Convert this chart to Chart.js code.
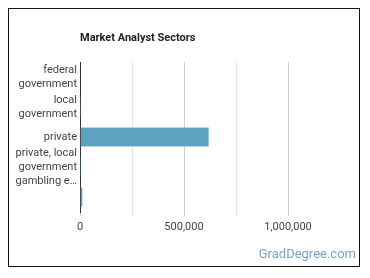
<!DOCTYPE html>
<html>
<head>
<meta charset="utf-8">
<script src="https://cdn.jsdelivr.net/npm/chart.js@4"></script>
<style>
  html, body { margin:0; padding:0; background:#fff; }
  #wrap { position:relative; width:370px; height:278px; overflow:hidden; }
  #frame { position:absolute; left:8px; top:8px; width:350px; height:257px; border:1.5px solid #111; }
  #title { position:absolute; left:80px; top:31px; font:bold 11px Roboto, sans-serif; color:#222; }
  #brand { position:absolute; right:14px; top:246px; font:13px Roboto, sans-serif; color:#7aa3c0; }
  canvas { position:absolute; left:0; top:0; }
</style>
</head>
<body>
<div id="wrap">
  <canvas id="chart" width="370" height="278"></canvas>
  <div id="frame"></div>
  <div id="title">Market Analyst Sectors</div>
  <div id="brand">GradDegree.com</div>
</div>
<script>
// sector labels (wrapped the way the reference shows them)
const categories = [
  ['federal', 'government'],
  ['local', 'government'],
  'private',
  ['private, local', 'government', 'gambling e…'],
  ''
];
// employment per sector
const employment = [2500, 6500, 620000, 6000, 13000];
const tickLabels = ['0', '500,000', '1,000,000'];
const labelledTicks = [0, 500000, 1000000];

new Chart(document.getElementById('chart'), {
  type: 'bar',
  data: {
    labels: categories,
    datasets: [{
      data: employment,
      backgroundColor: '#5ba3c1',
      borderColor: '#86c3d6',
      borderWidth: 0.6,
      barPercentage: 0.65,
      categoryPercentage: 1
    }]
  },
  options: {
    indexAxis: 'y',
    responsive: false,
    animation: false,
    layout: { padding: { left: 10, top: 62, right: 30, bottom: 36 } },
    plugins: { legend: { display: false }, tooltip: { enabled: false } },
    scales: {
      x: {
        min: 0, max: 1250000,
        afterFit: s => { s.height = 30; },
        border: { display: false },
        grid: {
          color: c => c.tick && labelledTicks.includes(c.tick.value) ? '#cfcfcf' : (c.tick && c.tick.value === 1250000 ? 'rgba(0,0,0,0)' : '#e6e6e6'),
          tickLength: 4
        },
        ticks: {
          stepSize: 250000,
          padding: 5,
          maxRotation: 0,
          autoSkip: false,
          color: '#444',
          font: { family: 'Roboto', size: 11 },
          callback: v => {
            const i = labelledTicks.indexOf(v);
            return i >= 0 ? tickLabels[i] : '';
          }
        }
      },
      y: {
        afterFit: s => { s.width = 70; },
        border: { display: true, color: '#333', width: 1 },
        grid: { display: false, drawTicks: false, tickLength: 0 },
        ticks: {
          padding: 3,
          autoSkip: false,
          color: '#444',
          font: { family: 'Roboto', size: 11, lineHeight: 1.25 }
        }
      }
    }
  }
});
</script>
</body>
</html>
